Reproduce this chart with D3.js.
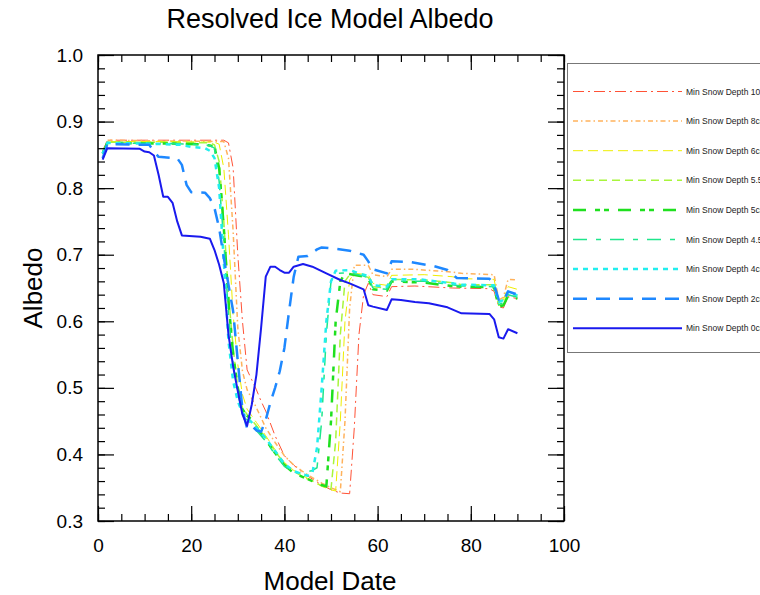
<!DOCTYPE html>
<html>
<head>
<meta charset="utf-8">
<script src="https://cdn.jsdelivr.net/npm/d3@7/dist/d3.min.js"></script>
<style>
  html, body { margin: 0; padding: 0; background: #fff; }
  svg text { font-family: 'Liberation Sans', Arial, Helvetica, sans-serif; }
</style>
</head>
<body>
<div id="chart"></div>
<script>
// Albedo per model day, one list of [day, albedo] per min snow depth run
const snow10 = [[1,0.855],[2,0.872],[15,0.872],[27,0.872],[28,0.868],[29,0.83],[30,0.70],[31,0.60],[32,0.527],[33,0.512],[34,0.497],[35,0.48],[36,0.465],[38,0.428],[40,0.398],[42,0.384],[44,0.372],[46,0.363],[48,0.354],[50,0.347],[52,0.342],[54,0.341],[55,0.44],[56,0.58],[57,0.64],[58,0.657],[59,0.640],[62,0.637],[63,0.652],[68,0.653],[76,0.650],[84,0.649],[85,0.645],[86,0.622],[87,0.620],[88,0.637],[90,0.634]];
const snow8 = [[1,0.855],[2,0.872],[15,0.871],[27,0.870],[28,0.845],[29,0.735],[30,0.59],[31,0.525],[32,0.497],[33,0.484],[34,0.470],[36,0.440],[38,0.418],[40,0.398],[42,0.384],[44,0.374],[46,0.365],[48,0.357],[50,0.350],[52,0.344],[53,0.45],[54,0.62],[55,0.684],[58,0.684],[59,0.670],[62,0.667],[63,0.678],[68,0.678],[76,0.674],[78,0.672],[85,0.670],[86,0.632],[87,0.636],[88,0.663],[90,0.662]];
const snow6 = [[1,0.854],[2,0.870],[15,0.870],[25,0.869],[26,0.866],[27,0.83],[28,0.73],[29,0.61],[30,0.535],[31,0.49],[32,0.468],[33,0.458],[34,0.448],[36,0.428],[38,0.407],[40,0.388],[42,0.376],[44,0.368],[46,0.360],[48,0.352],[50,0.347],[51,0.345],[52,0.45],[53,0.60],[54,0.662],[55,0.672],[58,0.670],[59,0.657],[62,0.654],[63,0.669],[70,0.670],[76,0.667],[78,0.664],[85,0.663],[86,0.627],[87,0.632],[88,0.652],[90,0.648]];
const snow55 = [[1,0.852],[2,0.869],[15,0.869],[24,0.868],[25,0.865],[26,0.84],[27,0.75],[28,0.64],[29,0.56],[30,0.50],[31,0.47],[32,0.46],[33,0.452],[34,0.443],[36,0.425],[38,0.405],[40,0.386],[42,0.375],[44,0.366],[46,0.360],[48,0.353],[50,0.348],[51,0.42],[52,0.58],[53,0.66],[54,0.670],[57,0.668],[58,0.666],[59,0.652],[62,0.650],[63,0.663],[70,0.662],[76,0.658],[78,0.655],[85,0.655],[86,0.624],[87,0.627],[88,0.642],[90,0.638]];
const snow5 = [[1,0.852],[2,0.868],[15,0.867],[22,0.866],[24,0.864],[25,0.862],[26,0.83],[27,0.74],[28,0.63],[29,0.55],[30,0.50],[31,0.468],[32,0.458],[33,0.452],[34,0.44],[36,0.422],[38,0.402],[40,0.384],[42,0.372],[44,0.366],[46,0.360],[48,0.354],[49,0.352],[50,0.45],[51,0.60],[52,0.66],[53,0.672],[57,0.667],[58,0.664],[59,0.648],[62,0.646],[63,0.660],[70,0.658],[76,0.653],[78,0.652],[85,0.651],[86,0.622],[87,0.624],[88,0.638],[90,0.634]];
const snow45 = [[1,0.852],[2,0.868],[15,0.867],[20,0.866],[24,0.864],[25,0.86],[26,0.81],[27,0.72],[28,0.61],[29,0.535],[30,0.49],[31,0.464],[32,0.452],[33,0.445],[34,0.436],[36,0.42],[38,0.40],[40,0.382],[42,0.373],[44,0.372],[46,0.376],[47,0.38],[48,0.45],[49,0.58],[50,0.66],[51,0.672],[54,0.673],[57,0.668],[58,0.665],[59,0.650],[62,0.648],[63,0.660],[70,0.660],[76,0.655],[78,0.653],[85,0.652],[86,0.625],[87,0.628],[88,0.640],[90,0.636]];
const snow4 = [[1,0.852],[2,0.868],[10,0.867],[18,0.865],[20,0.862],[23,0.860],[24,0.856],[25,0.845],[26,0.80],[27,0.69],[28,0.57],[29,0.51],[30,0.48],[31,0.462],[32,0.455],[33,0.448],[34,0.440],[35,0.432],[36,0.424],[38,0.405],[40,0.386],[42,0.375],[44,0.370],[45,0.368],[46,0.372],[47,0.41],[48,0.50],[49,0.60],[50,0.66],[51,0.676],[54,0.677],[56,0.672],[58,0.668],[59,0.654],[62,0.652],[63,0.663],[69,0.663],[76,0.657],[78,0.655],[85,0.654],[86,0.629],[87,0.632],[88,0.644],[90,0.639]];
const snow2 = [[1,0.845],[2,0.866],[11,0.865],[12,0.855],[13,0.847],[17,0.845],[18,0.835],[19,0.805],[20,0.794],[23,0.793],[24,0.785],[25,0.77],[26,0.74],[27,0.695],[28,0.655],[29,0.615],[30,0.54],[31,0.467],[32,0.439],[33,0.443],[34,0.436],[35,0.434],[36,0.452],[37,0.478],[38,0.50],[39,0.525],[40,0.56],[41,0.615],[42,0.667],[43,0.697],[45,0.698],[47,0.708],[48,0.711],[51,0.709],[54,0.706],[57,0.700],[58,0.690],[59,0.678],[62,0.672],[63,0.690],[67,0.689],[72,0.683],[75,0.677],[77,0.665],[84,0.664],[85,0.655],[86,0.632],[87,0.630],[88,0.645],[90,0.640]];
const snow0 = [[1,0.843],[2,0.860],[9,0.859],[10,0.855],[11,0.854],[12,0.849],[13,0.82],[14,0.787],[15,0.787],[16,0.778],[17,0.75],[18,0.729],[22,0.727],[24,0.724],[25,0.707],[26,0.685],[27,0.657],[28,0.58],[29,0.532],[30,0.495],[31,0.46],[32,0.443],[33,0.475],[34,0.52],[35,0.59],[36,0.667],[37,0.682],[38,0.682],[39,0.677],[40,0.673],[41,0.673],[42,0.682],[44,0.686],[46,0.682],[49,0.672],[52,0.662],[54,0.657],[57,0.648],[58,0.624],[59,0.622],[62,0.617],[63,0.633],[65,0.632],[68,0.629],[71,0.627],[75,0.621],[78,0.612],[84,0.611],[85,0.603],[86,0.576],[87,0.574],[88,0.588],[90,0.582]];

const seriesNames = ['Min Snow Depth 10cm', 'Min Snow Depth 8cm', 'Min Snow Depth 6cm', 'Min Snow Depth 5.5cm',
  'Min Snow Depth 5cm', 'Min Snow Depth 4.5cm', 'Min Snow Depth 4cm', 'Min Snow Depth 2cm', 'Min Snow Depth 0cm'];
const seriesValues = [snow10, snow8, snow6, snow55, snow5, snow45, snow4, snow2, snow0];

const xTicks = [0, 20, 40, 60, 80, 100];
const yTicks = [0.3, 0.4, 0.5, 0.6, 0.7, 0.8, 0.9, 1.0];

// line look for each run (NCL-ish dash patterns)
const styles = [
  { color: '#ff5236', width: 1,   dash: '11,4,2,4' },
  { color: '#ffb25c', width: 1.5, dash: '5,3,1.5,3' },
  { color: '#eeee00', width: 1,   dash: '10,5' },
  { color: '#a8f53c', width: 1.5, dash: '8,5' },
  { color: '#1fe01f', width: 2.5, dash: '13,9,5,4,5,9' },
  { color: '#1ee68c', width: 1.5, dash: '14,9,5,9' },
  { color: '#22eeee', width: 2.5, dash: '5,5' },
  { color: '#1e88ff', width: 2.5, dash: '14,9' },
  { color: '#1a1aee', width: 2,   dash: null }
];

const W = 760, H = 595;
const plot = { left: 98, right: 564, top: 55, bottom: 521 };

const svg = d3.select('#chart')
  .append('svg')
  .attr('width', W)
  .attr('height', H);

const x = d3.scaleLinear().domain([0, 100]).range([plot.left, plot.right]);
const y = d3.scaleLinear().domain([0.3, 1.0]).range([plot.bottom, plot.top]);

// Title
svg.append('text')
  .attr('x', 330).attr('y', 28)
  .attr('text-anchor', 'middle')
  .style('font-size', '27px')
  .text('Resolved Ice Model Albedo');

// Data lines
const line = d3.line()
  .x(d => x(d[0]))
  .y(d => y(d[1]));

const linesG = svg.append('g');
seriesValues.forEach((vals, i) => {
  linesG.append('path')
    .datum(vals)
    .attr('fill', 'none')
    .attr('stroke', styles[i].color)
    .attr('stroke-width', styles[i].width)
    .attr('stroke-dasharray', styles[i].dash)
    .attr('stroke-linejoin', 'round')
    .attr('d', line);
});

// Axes: major + minor ticks, pointing inward, on all four sides
function styleAxis(g) {
  g.select('.domain').remove();
  g.selectAll('.tick line').attr('stroke', '#000').attr('stroke-width', 1.2);
  g.selectAll('.tick text')
    .attr('fill', '#000')
    .style('font-size', '19px')
    .style('font-family', "'Liberation Sans', Arial, sans-serif");
}

const xMinor = d3.range(0, 101, 5);
const yMinor = d3.range(0, 36).map(i => +(0.3 + i * 0.02).toFixed(2));

svg.append('g')
  .attr('transform', `translate(0,${plot.bottom})`)
  .call(d3.axisBottom(x).tickValues(xMinor).tickSize(-7).tickFormat(''))
  .call(styleAxis);
svg.append('g')
  .attr('transform', `translate(0,${plot.bottom})`)
  .call(d3.axisBottom(x).tickValues(xTicks).tickSize(-15).tickPadding(18).tickFormat(d3.format('d')))
  .call(styleAxis);
svg.append('g')
  .attr('transform', `translate(0,${plot.top})`)
  .call(d3.axisTop(x).tickValues(xMinor).tickSize(-7).tickFormat(''))
  .call(styleAxis);
svg.append('g')
  .attr('transform', `translate(0,${plot.top})`)
  .call(d3.axisTop(x).tickValues(xTicks).tickSize(-15).tickFormat(''))
  .call(styleAxis);

svg.append('g')
  .attr('transform', `translate(${plot.left},0)`)
  .call(d3.axisLeft(y).tickValues(yMinor).tickSize(-7).tickFormat(''))
  .call(styleAxis);
svg.append('g')
  .attr('transform', `translate(${plot.left},0)`)
  .call(d3.axisLeft(y).tickValues(yTicks).tickSize(-16).tickPadding(15).tickFormat(d3.format('.1f')))
  .call(styleAxis);
svg.append('g')
  .attr('transform', `translate(${plot.right},0)`)
  .call(d3.axisRight(y).tickValues(yMinor).tickSize(-7).tickFormat(''))
  .call(styleAxis);
svg.append('g')
  .attr('transform', `translate(${plot.right},0)`)
  .call(d3.axisRight(y).tickValues(yTicks).tickSize(-16).tickFormat(''))
  .call(styleAxis);

// Frame
svg.append('rect')
  .attr('x', plot.left).attr('y', plot.top)
  .attr('width', plot.right - plot.left)
  .attr('height', plot.bottom - plot.top)
  .attr('fill', 'none')
  .attr('stroke', '#000')
  .attr('stroke-width', 1.5);

// Axis titles
svg.append('text')
  .attr('x', 330).attr('y', 590)
  .attr('text-anchor', 'middle')
  .style('font-size', '26px')
  .text('Model Date');

svg.append('text')
  .attr('transform', 'translate(42,288) rotate(-90)')
  .attr('text-anchor', 'middle')
  .style('font-size', '26px')
  .text('Albedo');

// Legend (runs past the right edge, as in the original)
const legend = svg.append('g');
legend.append('rect')
  .attr('x', 567.5).attr('y', 63.5)
  .attr('width', 220).attr('height', 289)
  .attr('fill', '#fff')
  .attr('stroke', '#777')
  .attr('stroke-width', 1);

seriesNames.forEach((name, i) => {
  const ly = 91.5 + i * 29.6;
  legend.append('line')
    .attr('x1', 573).attr('x2', 682)
    .attr('y1', ly).attr('y2', ly)
    .attr('stroke', styles[i].color)
    .attr('stroke-width', styles[i].width)
    .attr('stroke-dasharray', styles[i].dash);
  legend.append('text')
    .attr('x', 686).attr('y', ly + 3)
    .style('font-size', '8.5px')
    .attr('fill', '#222')
    .text(name);
});
</script>
</body>
</html>
